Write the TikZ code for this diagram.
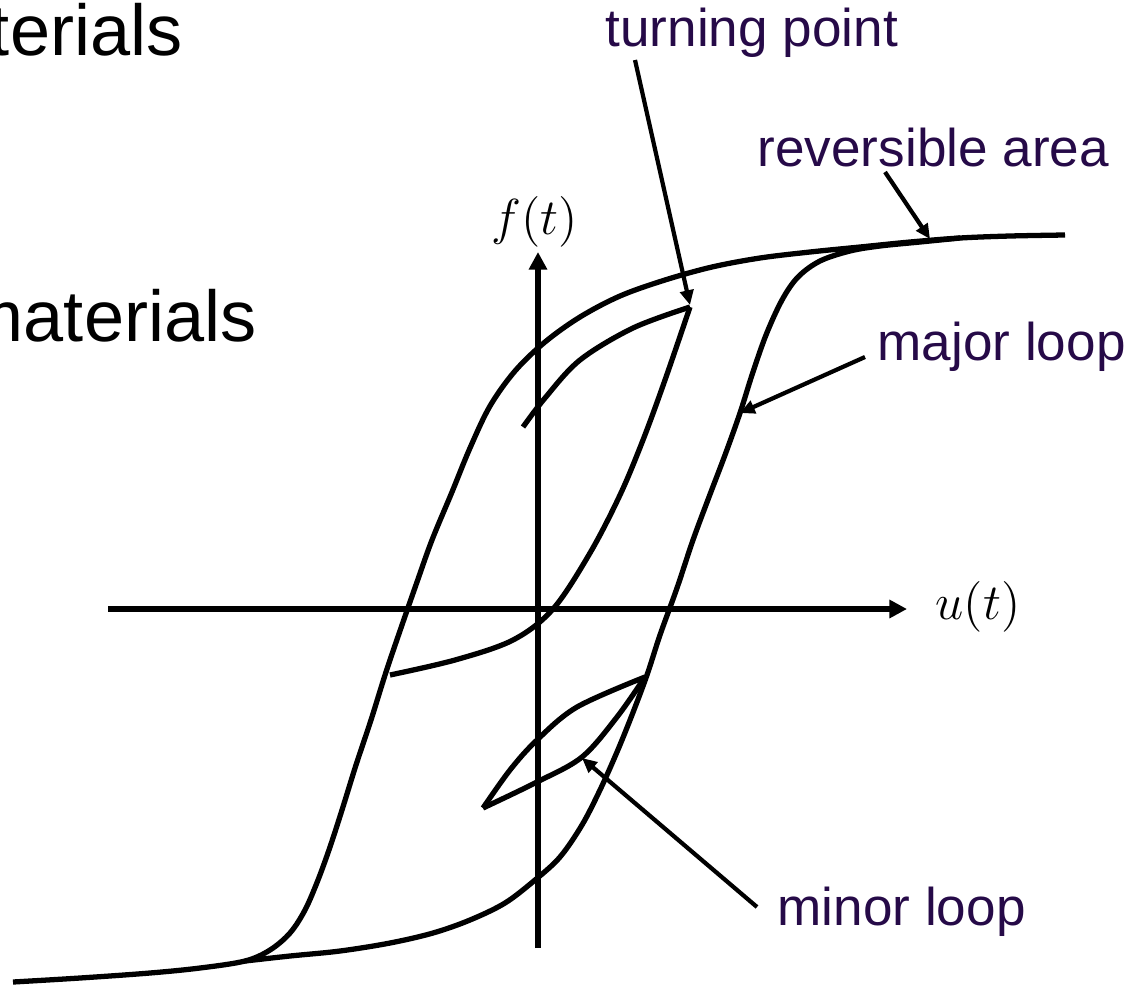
\documentclass[tikz,border=0pt]{standalone}
\usepackage{fontspec}
\setmainfont{Liberation Sans}
\usepackage{xcolor}
\usepackage{tikz}
\usetikzlibrary{arrows.meta}
\definecolor{labelpurple}{RGB}{38,10,72}

\begin{document}
\begin{tikzpicture}[
    x=0.01cm, y=-0.01cm,
    curve/.style={line width=1.5pt, line join=round},
    axis/.style={line width=1.5pt, -{Triangle[length=5pt, width=5pt]}},
    ann/.style={line width=1.2pt, -{Triangle[length=4.2pt, width=3.8pt]}},
    lbl/.style={text=labelpurple, font=\fontsize{15.1}{18}\selectfont, inner sep=0pt},
    big/.style={font=\fontsize{20.5}{24}\selectfont, inner sep=0pt},
    mth/.style={font=\fontsize{15.5}{18}\selectfont, inner sep=0pt}
  ]
  \useasboundingbox (0,0) rectangle (1139,984);
  \node[big, anchor=base east] (top) at (183,55) {terials};
  \node[big, anchor=base east] (mid) at (257,341) {materials};
  \coordinate (xs) at (108,609);
  \coordinate (xe) at (907,609);
  \coordinate (ys) at (538,948);
  \coordinate (ye) at (538,252);
  \draw[axis] (xs) -- (xe);
  \draw[axis] (ys) -- (ye);
  \node[mth] (ft) at (535,222) {$f(t)$};
  \node[mth, anchor=west] (ut) at (935,607) {$u(t)$};
  \draw[curve] plot[smooth, tension=0.55] coordinates {(1065,235) (1010,236) (960,238) (910,242) (860,247) (810,252) (760,258) (712,267) (665,280) (620,296) (580,317) (545,342) (515,371) (490,406) (470,448) (452,492) (432,540) (417,582) (402,625) (386,672) (371,720) (356,765) (342,810) (330,847) (318,880) (305,910) (290,933) (270,950) (245,961) (200,968) (150,973) (80,978) (13,982)};
  \draw[curve] plot[smooth, tension=0.55] coordinates {(245,961) (290,956) (340,951) (390,943) (433,933) (470,920) (505,903) (535,880) (560,857) (582,825) (600,790) (617,752) (632,715) (647,675) (660,635) (677,588) (693,540) (709,497) (725,455) (740,413) (752,375) (766,335) (782,300) (798,277) (820,261) (850,251) (880,246) (920,242) (960,238)};
  \draw[curve] plot[smooth, tension=0.55] coordinates {(390,675) (455,660) (513,640) (553,609) (590,553) (620,495) (643,440) (665,380) (690,307)};
  \draw[curve] plot[smooth, tension=0.55] coordinates {(690,307) (633,328) (580,360) (545,398) (523,427)};
  \draw[curve] plot[smooth, tension=0.55] coordinates {(483,808) (510,770) (537,740) (577,707) (645,677)};
  \draw[curve] plot[smooth, tension=0.55] coordinates {(483,808) (537,782) (582,757) (617,717) (645,677)};
  \coordinate (turn) at (690,305);
  \coordinate (rev) at (930,239);
  \coordinate (maj) at (740,413);
  \coordinate (mnr) at (582,758);
  \node[lbl, anchor=base west] (tp) at (605,46) {turning point};
  \node[lbl, anchor=base west] (ra) at (757,166) {reversible area};
  \node[lbl, anchor=base west] (ml) at (877,360) {major loop};
  \node[lbl, anchor=base west] (nl) at (777,925) {minor loop};
  \draw[ann] ([shift={(30,14)}]tp.base west) -- (turn);
  \draw[ann] ([shift={(128,6)}]ra.base west) -- (rev);
  \draw[ann] ([shift={(-12,-3)}]ml.base west) -- (maj);
  \draw[ann] ([shift={(-20,-18)}]nl.base west) -- (mnr);
\end{tikzpicture}
\end{document}
